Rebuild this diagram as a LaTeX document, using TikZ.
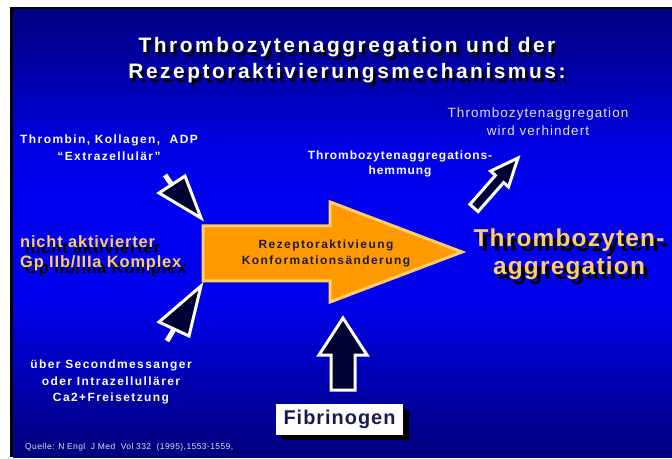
\documentclass[tikz,border=0pt]{standalone}
\usepackage{fontspec}
\setmainfont{Liberation Sans}
\newfontfamily\fontwide[LetterSpace=12]{Liberation Sans}
\newfontfamily\fontmid[LetterSpace=8]{Liberation Sans}
\newfontfamily\fontslim[LetterSpace=5]{Liberation Sans}
\definecolor{bgA}{RGB}{0,0,125}
\definecolor{bgB}{RGB}{0,0,160}
\definecolor{bgC}{RGB}{0,0,235}
\definecolor{bgD}{RGB}{0,0,245}
\definecolor{bgE}{RGB}{0,0,225}
\definecolor{bgF}{RGB}{0,0,175}
\definecolor{bgG}{RGB}{0,0,132}
\definecolor{navyfill}{RGB}{0,0,51}
\definecolor{arroworange}{RGB}{255,153,0}
\definecolor{arrowrim}{RGB}{255,204,102}
\definecolor{paleorange}{RGB}{255,204,102}
\definecolor{darktext}{RGB}{26,26,80}
\definecolor{lightgray}{RGB}{225,225,225}
\pgfdeclareverticalshading{slidebg}{100bp}{color(0bp)=(bgA); color(25bp)=(bgA); color(31bp)=(bgB); color(42bp)=(bgC); color(52bp)=(bgD); color(60bp)=(bgE); color(67bp)=(bgF); color(75bp)=(bgG); color(100bp)=(bgG)}
\tikzset{
  txt/.style={inner sep=0pt, align=center},
  mainarrow/.style={fill=arroworange, draw=arrowrim, line width=3bp, line join=miter},
  smallhead/.style={fill=navyfill, draw=white, line width=3bp, line join=miter},
  stem/.style={draw=white, line width=5bp},
  blockarrow/.style={fill=navyfill, draw=white, line width=3bp, line join=miter},
}
\begin{document}
\begin{tikzpicture}[x=1bp, y=-1bp]
\useasboundingbox (0,0) rectangle (672,459);
\fill[white] (0,0) rectangle (672,459);
\fill[black] (10,7) rectangle (672,457);
\shade[shading=slidebg] (13,10) rectangle (672,457);

% title
\node[txt, text=black, font=\fontwide\bfseries\fontsize{21}{26}\selectfont] (titleshadow) at (350,64) {Thrombozytenaggregation und der\\Rezeptoraktivierungsmechanismus:};
\node[txt, text=white, font=\fontwide\bfseries\fontsize{21}{26}\selectfont] (title) at (347,60) {Thrombozytenaggregation und der\\Rezeptoraktivierungsmechanismus:};

% left texts
\node[txt, text=white, font=\fontwide\bfseries\fontsize{12}{17}\selectfont] (extra) at (109,148) {Thrombin, Kollagen,\ \ ADP\\“Extrazellulär”};
\node[txt, align=left, anchor=west, text=black, font=\fontslim\bfseries\fontsize{16.5}{20}\selectfont] (gpshadow) at (25,259) {nicht aktivierter\\Gp IIb/IIIa Komplex};
\node[txt, align=left, anchor=west, text=paleorange, font=\fontslim\bfseries\fontsize{16.5}{20}\selectfont] (gp) at (20,253) {nicht aktivierter\\Gp IIb/IIIa Komplex};
\node[txt, text=white, font=\fontwide\bfseries\fontsize{12}{16.5}\selectfont] (second) at (111,382) {über Secondmessanger\\oder Intrazellullärer\\Ca2+Freisetzung};

% upper texts
\node[txt, text=white, font=\fontmid\bfseries\fontsize{12}{15}\selectfont] (hemm) at (400,164) {Thrombozytenaggregations-\\hemmung};
\node[txt, text=lightgray, font=\fontmid\fontsize{13.5}{18}\selectfont] (verh) at (538,122) {Thrombozytenaggregation\\wird verhindert};

% right big text
\node[txt, text=black, font=\fontslim\bfseries\fontsize{24.5}{28}\selectfont] (aggshadow) at (573,259) {Thrombozyten-\\aggregation};
\node[txt, text=paleorange, font=\fontslim\bfseries\fontsize{24.5}{28}\selectfont] (agg) at (569,254) {Thrombozyten-\\aggregation};

% main arrow
\draw[mainarrow] (203,226) -- (330,226) -- (330,202) -- (462,252) -- (330,302) -- (330,281) -- (203,281) -- cycle;
\node[txt, text=darktext, font=\fontwide\bfseries\fontsize{12}{16}\selectfont] (rez) at (326,253) {Rezeptoraktivieung\\Konformationsänderung};

% small arrows
\draw[stem] (165,175) -- (172,185);
\draw[smallhead] (159,193) -- (185,176) -- (201,218) -- cycle;
\draw[stem] (167,341) -- (174,329);
\draw[smallhead] (159,322) -- (189,336) -- (201,286) -- cycle;

% up-right arrow
\draw[blockarrow] (478.1,211.6) -- (503.6,182.6) -- (508.5,186.9) -- (518,158) -- (490.5,171.1) -- (495.4,175.4) -- (469.9,204.4) -- cycle;

% fibrinogen arrow
\draw[blockarrow] (331,390) -- (331,355) -- (319,355) -- (343,318) -- (367,355) -- (355,355) -- (355,390) -- cycle;

% fibrinogen box
\fill[black] (282,410) rectangle (409,440);
\node[fill=white, inner sep=0pt, minimum width=127bp, minimum height=31bp, text=darktext, font=\fontslim\bfseries\fontsize{20}{24}\selectfont] (fib) at (339.5,419.5) {Fibrinogen};

% source
\node[txt, anchor=west, text=lightgray, font=\fontslim\fontsize{8.5}{10}\selectfont] (quelle) at (25,447) {Quelle: N Engl\ \ J Med\ \ Vol 332\ \ (1995),1553-1559,};
\end{tikzpicture}
\end{document}
